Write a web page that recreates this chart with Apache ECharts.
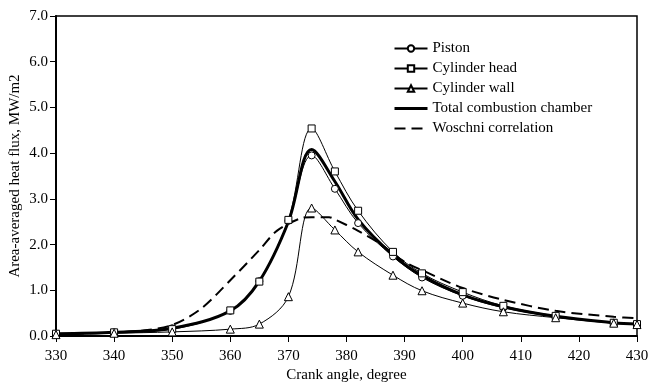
<!DOCTYPE html>
<html>
<head>
<meta charset="utf-8">
<script src="https://cdn.jsdelivr.net/npm/echarts@6/dist/echarts.min.js"></script>
<style>
  html, body { margin: 0; padding: 0; background: #fff; }
  #chart { width: 649px; height: 383px; }
</style>
</head>
<body>
<div id="chart"></div>
<script>
// Crank angles where surface heat flux was sampled (degrees)
const markerAngles = [330, 340, 350, 360, 365, 370, 374, 378, 382, 388, 393, 400, 407, 416, 426, 430];
// Area-averaged heat flux, MW/m2
const piston   = [0.05, 0.08, 0.17, 0.55, 1.20, 2.52, 3.95, 3.22, 2.47, 1.74, 1.28, 0.88, 0.62, 0.42, 0.29, 0.26];
const head     = [0.05, 0.08, 0.15, 0.56, 1.19, 2.54, 4.54, 3.60, 2.74, 1.84, 1.37, 0.96, 0.66, 0.44, 0.29, 0.26];
const wall     = [0.03, 0.06, 0.09, 0.15, 0.26, 0.86, 2.80, 2.32, 1.84, 1.33, 0.99, 0.72, 0.53, 0.40, 0.28, 0.25];

const totalAngles = [330, 340, 350, 360, 365, 370, 374, 378, 382, 388, 393, 400, 407, 416, 426, 430];
const total       = [0.05, 0.08, 0.17, 0.55, 1.20, 2.50, 4.08, 3.38, 2.55, 1.77, 1.32, 0.90, 0.64, 0.43, 0.29, 0.26];

const woschniAngles = [330, 340, 345, 350, 355, 360, 365, 368, 372, 374, 377, 378, 382, 386, 390, 393, 400, 407, 416, 426, 430];
const woschni       = [0.03, 0.08, 0.12, 0.24, 0.60, 1.22, 1.88, 2.30, 2.57, 2.60, 2.60, 2.55, 2.30, 2.00, 1.62, 1.44, 1.05, 0.79, 0.55, 0.42, 0.39];

const xTicks = { min: 330, max: 430, step: 10 };
const yTicks = { min: 0, max: 7, step: 1 };

const pairs = (xs, ys) => xs.map((x, i) => [x, ys[i]]);

const FONT = '"Liberation Serif", "DejaVu Serif", serif';
const FS = 15;

function markedSeries(name, values, symbol) {
  return {
    name: name,
    type: 'line',
    data: pairs(markerAngles, values),
    smooth: 0.35,
    symbol: symbol,
    symbolSize: symbol === 'triangle' ? 8 : 7,
    showAllSymbol: true,
    lineStyle: { color: '#000', width: 1 },
    itemStyle: { color: '#fff', borderColor: '#000', borderWidth: 1 },
    z: 3
  };
}

// legend entries for plain lines carry no marker
const noMarker = { color: 'rgba(0,0,0,0)', borderWidth: 0, opacity: 0 };

const chart = echarts.init(document.getElementById('chart'), null, { renderer: 'canvas' });

chart.setOption({
  backgroundColor: '#fff',
  animation: false,
  textStyle: { fontFamily: FONT, color: '#000' },
  grid: {
    left: 56, right: 12, top: 16, bottom: 47,
    outerBoundsMode: 'none',
    containLabel: false,
    show: true, borderColor: '#000', borderWidth: 1.5, backgroundColor: 'transparent'
  },
  legend: {
    orient: 'vertical',
    left: 393, top: 41, padding: 0,
    itemWidth: 33, itemHeight: 8, itemGap: 5,
    textStyle: { fontFamily: FONT, fontSize: FS, color: '#000', lineHeight: 15 },
    data: [
      'Piston', 'Cylinder head', 'Cylinder wall',
      { name: 'Total combustion chamber', itemStyle: noMarker, lineStyle: { width: 3 } },
      { name: 'Woschni correlation', itemStyle: noMarker, lineStyle: { width: 2 } }
    ]
  },
  xAxis: {
    type: 'value',
    min: xTicks.min, max: xTicks.max, interval: xTicks.step,
    name: 'Crank angle, degree',
    nameLocation: 'middle', nameGap: 32,
    nameMoveOverlap: false,
    nameTextStyle: { fontFamily: FONT, fontSize: FS, color: '#000' },
    axisLine: { lineStyle: { color: '#000', width: 2 } },
    axisTick: { show: true, inside: false, length: 6, lineStyle: { color: '#000', width: 1 } },
    axisLabel: { fontFamily: FONT, fontSize: FS, color: '#000', margin: 13 },
    splitLine: { show: false }
  },
  yAxis: {
    type: 'value',
    min: yTicks.min, max: yTicks.max, interval: yTicks.step,
    name: 'Area-averaged heat flux, MW/m2',
    nameLocation: 'middle', nameGap: 33, nameRotate: 90,
    nameMoveOverlap: false,
    nameTextStyle: { fontFamily: FONT, fontSize: FS, color: '#000' },
    axisLine: { show: true, lineStyle: { color: '#000', width: 2 } },
    axisTick: { show: true, inside: false, length: 6, lineStyle: { color: '#000', width: 1 } },
    axisLabel: { fontFamily: FONT, fontSize: FS, color: '#000', margin: 8,
                 formatter: v => v.toFixed(1) },
    splitLine: { show: false }
  },
  series: [
    markedSeries('Piston', piston, 'circle'),
    markedSeries('Cylinder head', head, 'rect'),
    markedSeries('Cylinder wall', wall, 'triangle'),
    {
      name: 'Total combustion chamber',
      type: 'line',
      data: pairs(totalAngles, total),
      smooth: 0.35,
      symbol: 'none',
      lineStyle: { color: '#000', width: 3 },
      itemStyle: { color: '#000' },
      z: 2
    },
    {
      name: 'Woschni correlation',
      type: 'line',
      data: pairs(woschniAngles, woschni),
      smooth: 0.3,
      symbol: 'none',
      lineStyle: { color: '#000', width: 2, type: [11, 6] },
      itemStyle: { color: '#000' },
      z: 1
    }
  ]
});
</script>
</body>
</html>
